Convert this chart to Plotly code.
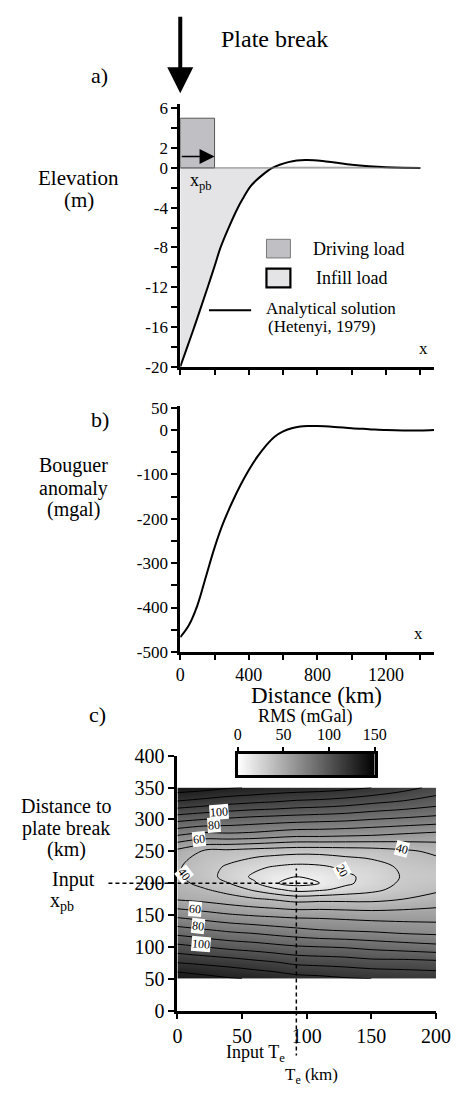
import plotly.graph_objects as go

W, H = 473, 1096
FONT = "Liberation Serif"


def PX(p):
    return p / W


def PY(p):
    return 1 - p / H


# ---------------- data ----------------
# panel a: elevation profile (Hetenyi analytical solution)
elev_dist_km = [0, 40, 82, 120, 160, 200, 235, 280, 336, 370, 403, 440, 480, 510, 537,
                580, 630, 680, 730, 780, 830, 900, 1000, 1100, 1200, 1300, 1400]
elev_m = [-20, -18.05, -16, -14.05, -12, -9.9, -8, -6.1, -4, -2.95, -2, -1.3, -0.7, -0.3, 0,
          0.32, 0.58, 0.74, 0.8, 0.78, 0.7, 0.55, 0.33, 0.17, 0.06, 0.01, 0]
driving_load_width_km = 200
driving_load_height_m = 5
xpb_arrow_elev_m = 1.15

elev_ticks = [-20, -16, -12, -8, -4, 0, 2, 6]
elev_minor_step = 2

# panel b: Bouguer anomaly
bouguer_dist_km = [0, 50, 100, 150, 200, 250, 300, 350, 400, 450, 500, 550, 600, 650,
                   700, 750, 800, 900, 1000, 1100, 1200, 1300, 1400, 1480]
bouguer_mgal = [-467, -440, -395, -330, -265, -210, -165, -125, -90, -60, -35, -15, -3, 4,
                8, 9, 9, 7, 4, 2, 0, -1, -1, 0]
bouguer_ticks = [-500, -400, -300, -200, -100, 0, 50]
bouguer_minor_step = 50
dist_ticks = [0, 400, 800, 1200]
dist_minor_step = 200

# panel c: RMS misfit grid (mGal), one column per Te value
te_km = [0, 20, 40, 60, 75, 92, 110, 130, 150, 175, 200]
xpb_km = [50, 75, 100, 125, 150, 175, 190, 200, 210, 225, 250, 275, 300, 325, 350]
rms_te0 = [137, 120, 103, 85, 67, 49, 45, 43, 41.5, 41, 47, 70, 93, 117, 136]
rms_te20 = [134, 118, 100, 82, 64, 47, 41, 37, 35, 35, 39, 66, 90, 114, 134]
rms_te40 = [131, 116, 97, 79, 61, 44, 36, 30, 26, 28, 37, 67, 88, 111, 131]
rms_te60 = [129, 113, 95, 77, 59, 41, 28, 21, 18, 22, 35, 66, 86, 109, 129]
rms_te75 = [127, 111, 93, 75, 58, 39, 22, 11, 12, 19, 34, 64, 85, 108, 127]
rms_te92 = [124, 108, 91, 73, 57, 36, 16, 6, 10, 17, 33, 62, 84, 106, 126]
rms_te110 = [123, 107, 90, 71, 57, 37, 18, 10, 11, 18, 33, 62, 83, 105, 125]
rms_te130 = [121, 106, 89, 70, 56, 37, 23, 18, 18, 22, 34, 61, 82, 103, 123]
rms_te150 = [120, 104, 87, 69, 55, 37, 27, 24, 23, 25, 35, 60, 80, 100, 120]
rms_te175 = [118, 104, 85, 67, 55, 40, 34, 32, 31, 32, 38, 58, 78, 97, 114]
rms_te200 = [117, 103, 83, 66, 55, 44, 38, 35, 33, 35, 42, 56, 76, 93, 107]
rms_columns = [rms_te0, rms_te20, rms_te40, rms_te60, rms_te75, rms_te92, rms_te110,
               rms_te130, rms_te150, rms_te175, rms_te200]
rms_levels = (10, 140, 10)
rms_colorbar_range = [0, 150]
rms_colorbar_ticks = [0, 50, 100, 150]
input_te_km = 92
input_xpb_km = 200

# contour labels: (Te, xpb, text, angle)
contour_labels = [
    (32, 312, "100", -4), (28, 291, "80", -4), (17, 269, "60", -6),
    (174, 254, "40", 14), (5, 214, "40", 52), (127, 220, "20", 62),
    (14, 159, "60", 4), (16, 132, "80", 6), (18, 104, "100", 5),
]

xpb_ticks = [0, 50, 100, 150, 200, 250, 300, 350, 400]
te_ticks = [0, 50, 100, 150, 200]

# ---------------- figure ----------------
rms_rows = [list(r) for r in zip(*rms_columns)]
grey = [[0, "#ffffff"], [1, "#000000"]]

infill_x = [d for d, e in zip(elev_dist_km, elev_m) if e <= 0]
infill_y = [e for e in elev_m if e <= 0]

fig = go.Figure()
fig.add_trace(go.Scatter(x=infill_x, y=infill_y, mode="lines", fill="tozeroy",
                         fillcolor="#e4e4e6", line=dict(width=0, shape="spline"),
                         xaxis="x", yaxis="y", hoverinfo="skip"))
fig.add_trace(go.Scatter(x=elev_dist_km, y=elev_m, mode="lines",
                         line=dict(color="black", width=2, shape="spline"),
                         xaxis="x", yaxis="y"))
fig.add_trace(go.Scatter(x=bouguer_dist_km, y=bouguer_mgal, mode="lines",
                         line=dict(color="black", width=2, shape="spline"),
                         xaxis="x2", yaxis="y2"))
fig.add_trace(go.Contour(x=te_km, y=xpb_km, z=rms_rows, colorscale=grey,
                         zmin=rms_colorbar_range[0], zmax=rms_colorbar_range[1], zauto=False,
                         autocontour=False,
                         contours=dict(start=rms_levels[0], end=rms_levels[1], size=rms_levels[2],
                                       coloring="heatmap", showlabels=False),
                         line=dict(color="black", width=1, smoothing=1),
                         showscale=False, xaxis="x3", yaxis="y3"))
fig.add_trace(go.Heatmap(x=rms_colorbar_range, y=[0, 1],
                         z=[rms_colorbar_range, rms_colorbar_range], colorscale=grey,
                         zmin=rms_colorbar_range[0], zmax=rms_colorbar_range[1],
                         zsmooth="best", showscale=False, xaxis="x4", yaxis="y4"))

AXC = "black"
AXW = 2.8
base_axis = dict(showgrid=False, zeroline=False, showline=True, linecolor=AXC, linewidth=AXW,
                 ticks="outside", tickcolor="black", tickwidth=1.5, ticklen=6,
                 tickfont=dict(family=FONT, size=17, color="black"), fixedrange=True)


def ax(**kw):
    d = dict(base_axis)
    d.update(kw)
    return d


def minor(step, length=6):
    return dict(dtick=step, tick0=0, ticks="outside", ticklen=length, tickwidth=1.5,
                tickcolor="black", showgrid=False)


fig.update_layout(
    width=W, height=H, autosize=False, margin=dict(l=0, r=0, t=0, b=0, pad=0),
    paper_bgcolor="white", plot_bgcolor="white", showlegend=False,
    font=dict(family=FONT, color="black"),
    xaxis=ax(domain=[PX(183), PX(448)], range=[0, 1480], anchor="y",
             tickvals=dist_ticks, showticklabels=False, ticklen=5,
             minor=minor(dist_minor_step, 5)),
    yaxis=ax(domain=[PY(363), PY(95)], range=[-20, 6.42], anchor="x",
             tickvals=elev_ticks, ticktext=[str(v) for v in elev_ticks],
             minor=minor(elev_minor_step)),
    xaxis2=ax(domain=[PX(183), PX(448)], range=[0, 1480], anchor="y2",
              tickvals=dist_ticks, ticklen=5, minor=minor(dist_minor_step, 5),
              tickfont=dict(family=FONT, size=18, color="black")),
    yaxis2=ax(domain=[PY(654), PY(403)], range=[-500, 54.4], anchor="x2",
              tickvals=bouguer_ticks, ticktext=[str(v) for v in bouguer_ticks],
              minor=minor(bouguer_minor_step)),
    xaxis3=ax(domain=[PX(180), PX(450)], range=[0, 200], anchor="y3",
              tickvals=te_ticks, tickfont=dict(family=FONT, size=20, color="black")),
    yaxis3=ax(domain=[PY(1020), PY(760)], range=[0, 400], anchor="x3",
              tickvals=xpb_ticks, tickfont=dict(family=FONT, size=20, color="black")),
    xaxis4=ax(domain=[PX(243), PX(386)], range=rms_colorbar_range, anchor="y4", side="top",
              tickvals=rms_colorbar_ticks, ticklen=4, mirror=True,
              tickfont=dict(family=FONT, size=16, color="black")),
    yaxis4=ax(domain=[PY(780), PY(758)], range=[0, 1], anchor="x4", mirror=True,
              ticks="", showticklabels=False),
)

shapes = []
# driving load
shapes.append(dict(type="rect", xref="x", yref="y", x0=0, x1=driving_load_width_km,
                   y0=0, y1=driving_load_height_m, fillcolor="#bfbfc4",
                   line=dict(color="#555555", width=1), layer="above"))
# zero baseline
shapes.append(dict(type="line", xref="x", yref="y", x0=0, x1=elev_dist_km[-1], y0=0, y1=0,
                   line=dict(color="#7a7a7a", width=1)))
# legend symbols (panel a)
shapes.append(dict(type="rect", xref="paper", yref="paper", x0=PX(273), x1=PX(298),
                   y0=PY(252), y1=PY(233), fillcolor="#bfbfc4",
                   line=dict(color="#777777", width=1)))
shapes.append(dict(type="rect", xref="paper", yref="paper", x0=PX(273), x1=PX(298),
                   y0=PY(282), y1=PY(263), fillcolor="#e4e4e6",
                   line=dict(color="black", width=2.2)))
shapes.append(dict(type="line", xref="paper", yref="paper", x0=PX(213), x1=PX(257),
                   y0=PY(305.5), y1=PY(305.5), line=dict(color="black", width=2)))
# input Te / xpb dashed lines (panel c)
dash = dict(color="black", width=1.5, dash="4px,3px")
shapes.append(dict(type="line", xref="x3", yref="y3", x0=input_te_km, x1=input_te_km,
                   y0=0, y1=223, line=dash))
shapes.append(dict(type="line", xref="x3", yref="paper", x0=input_te_km, x1=input_te_km,
                   y0=PY(1021), y1=PY(1066), line=dash))
shapes.append(dict(type="line", xref="x3", yref="y3", x0=0, x1=105,
                   y0=input_xpb_km, y1=input_xpb_km, line=dash))
shapes.append(dict(type="line", xref="paper", yref="y3", x0=PX(108), x1=PX(179),
                   y0=input_xpb_km, y1=input_xpb_km, line=dash))
fig.update_layout(shapes=shapes)


def txt(x, y, s, size, xanchor="center", yanchor="middle", **kw):
    d = dict(xref="paper", yref="paper", x=PX(x), y=PY(y), text=s, showarrow=False,
             xanchor=xanchor, yanchor=yanchor, font=dict(family=FONT, size=size, color="black"))
    d.update(kw)
    return d


ann = [
    txt(281, 29, "Plate break", 24),
    txt(99, 66, "a)", 22),
    txt(99, 417, "b)", 22),
    txt(97, 718, "c)", 22),
    txt(77, 170, "Elevation", 21),
    txt(77, 193, "(m)", 21),
    txt(72, 464, "Bouguer", 20),
    txt(72, 487, "anomaly", 20),
    txt(72, 509, "(mgal)", 20),
    txt(64, 811, "Distance to", 20),
    txt(64, 834, "plate break", 20),
    txt(64, 856, "(km)", 20),
    txt(72, 886, "Input", 20),
    txt(60, 909, "x<sub>pb</sub>", 20),
    txt(437, 344, "x", 17),
    txt(432, 635, "x", 17),
    txt(205, 174, "x<sub>pb</sub>", 18),
    txt(320, 243, "Driving load", 18, xanchor="left"),
    txt(323, 272, "Infill load", 18, xanchor="left"),
    txt(270, 304, "Analytical solution", 17, xanchor="left"),
    txt(273, 322, "(Hetenyi, 1979)", 17, xanchor="left"),
    txt(325, 699, "Distance (km)", 23),
    txt(314, 720, "RMS (mGal)", 18),
    txt(262, 1064, "Input T<sub>e</sub>", 18),
    txt(320, 1087, "T<sub>e</sub> (km)", 17),
]
# plate break arrow
ann.append(dict(xref="x", yref="paper", x=0, y=PY(84), ax=0, ay=-78, text="",
                showarrow=True, arrowhead=2, arrowwidth=4, arrowsize=1.3,
                arrowcolor="black", standoff=0))
# xpb arrow inside driving load
ann.append(dict(xref="x", yref="y", x=driving_load_width_km, y=xpb_arrow_elev_m,
                axref="x", ayref="y", ax=0, ay=xpb_arrow_elev_m, text="", showarrow=True,
                arrowhead=2, arrowwidth=1.5, arrowsize=2, arrowcolor="black", standoff=0))
for te, xp, s, ang in contour_labels:
    ann.append(dict(xref="x3", yref="y3", x=te, y=xp, text=s, showarrow=False,
                    textangle=ang, bgcolor="white", borderpad=0,
                    font=dict(family=FONT, size=12, color="black")))
fig.update_layout(annotations=ann)

fig.write_html(
    "out.html",
    config={"displayModeBar": False, "responsive": False},
    post_script="document.body.style.margin='0';document.body.style.padding='0';"
                "document.documentElement.style.overflow='hidden';",
)
